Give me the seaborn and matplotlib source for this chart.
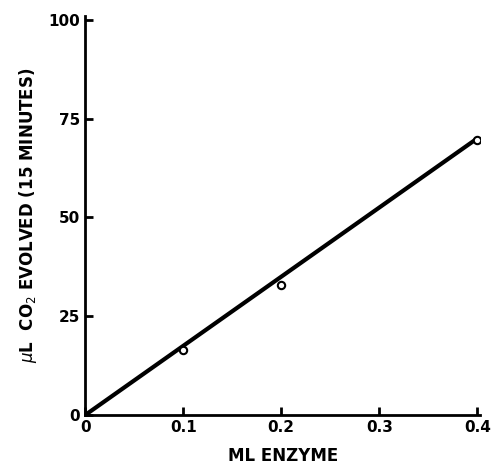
import matplotlib
matplotlib.use("Agg")
import matplotlib.pyplot as plt
import seaborn as sns
import pandas as pd

# measured points
enzyme_ml = [0.1, 0.2, 0.4]
co2_ul = [16.5, 32.8, 69.5]

# drawn line through origin
fit_ml = [0.0, 0.4]
fit_ul = [0.0, 70.0]

x_ticks = [0, 0.1, 0.2, 0.3, 0.4]
x_labels = ["0", "0.1", "0.2", "0.3", "0.4"]
y_ticks = [0, 25, 50, 75, 100]

sns.set_style("ticks")
plt.rcParams["font.family"] = ["DejaVu Sans"]
plt.rcParams["text.color"] = "black"
plt.rcParams["axes.labelcolor"] = "black"

fig = plt.figure(figsize=(4.95, 4.69), dpi=100)
ax = fig.add_axes([0.172, 0.115, 0.798, 0.851])

pts = pd.DataFrame({"ml": enzyme_ml, "ul": co2_ul})
fit = pd.DataFrame({"ml": fit_ml, "ul": fit_ul})

sns.lineplot(data=fit, x="ml", y="ul", ax=ax, color="black", linewidth=3.0)
sns.scatterplot(data=pts, x="ml", y="ul", ax=ax, marker="o", s=28,
                facecolor="white", edgecolor="black", linewidth=1.5, zorder=5)

ax.set_xlim(0, 0.403)
ax.set_ylim(0, 101)
ax.set_xticks(x_ticks)
ax.set_xticklabels(x_labels)
ax.set_yticks(y_ticks)

for side in ["top", "right"]:
    ax.spines[side].set_visible(False)
for side in ["left", "bottom"]:
    ax.spines[side].set_linewidth(2.0)
    ax.spines[side].set_color("black")

ax.tick_params(direction="in", length=6, width=2.0, labelsize=11, colors="black")
for lab in ax.get_xticklabels() + ax.get_yticklabels():
    lab.set_fontweight("bold")

ax.set_xlabel("ML ENZYME", fontsize=12, fontweight="bold", labelpad=9,
              color="black")
ax.set_ylabel(r"$\mu$L  CO$_2$ EVOLVED (15 MINUTES)", fontsize=12,
              fontweight="bold", labelpad=7, color="black")

fig.savefig("out.png", dpi=100)
